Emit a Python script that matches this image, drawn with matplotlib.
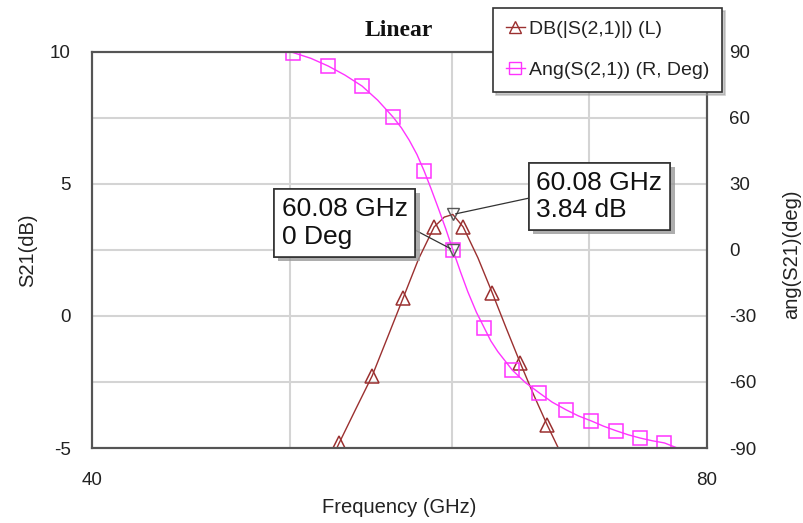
import matplotlib
matplotlib.use("Agg")
import matplotlib.pyplot as plt
import matplotlib.ticker as ticker
import matplotlib.patheffects as pe
from matplotlib.lines import Line2D

plt.rcParams.update({
    'font.family'       : 'sans-serif',
    'font.sans-serif'   : ['Liberation Sans', 'DejaVu Sans'],
    'axes.unicode_minus': False,
    'text.color'        : '#222222',
    'axes.labelcolor'   : '#222222',
    'xtick.color'       : '#222222',
    'ytick.color'       : '#222222',
})

# S21 magnitude (dB), left axis
FREQ_DB = [52.5, 52.86, 53.86, 54.86, 55.84, 56.81, 57.8, 58.83, 59.5, 60.08,
           60.78, 61.8, 62.81, 63.8, 64.82, 65.8, 66.82, 67.9]
S21_DB = [-5.3, -4.81, -3.52, -2.27, -0.78, 0.68, 2.15, 3.37, 3.74, 3.84,
          3.37, 2.2, 0.87, -0.46, -1.78, -2.98, -4.13, -5.25]
DB_MARKS = [1, 3, 5, 7, 10, 12, 14, 16]

# S21 phase (deg), right axis
FREQ_ANG = [50.19, 51.2, 52.21, 53.2, 54.24, 55.2, 56.17, 56.7, 57.2, 57.7,
            58.17, 58.6, 59.1, 59.6, 60.08, 60.6, 61.1, 61.7, 62.25, 62.7,
            63.2, 64.24, 65.2, 66.23, 67.2, 68.27, 69.2, 70.22, 71.2, 72.23,
            73.2, 74.21, 75.2, 76.25, 77.36]
S21_ANG = [89.6, 87.0, 83.5, 79.4, 74.4, 68.0, 60.3, 55.4, 49.8, 43.3,
           35.8, 28.2, 19.0, 9.6, 0.0, -10.0, -19.0, -28.4, -35.5, -41.3,
           -46.2, -54.6, -60.3, -65.0, -69.2, -72.7, -75.4, -77.7, -80.1, -82.2,
           -84.0, -85.5, -86.7, -87.7, -90.0]
ANG_MARKS = [0, 2, 4, 6, 10, 14, 18, 21, 23, 25, 27, 29, 31, 33]

# marker readouts
MARK_FREQ = 60.08
MARK_DB = 3.84
MARK_ANG = 0.0

DB_COLOR = '#9b3030'
ANG_COLOR = '#ff33ff'
GRID_COLOR = '#d4d4d4'
FRAME_COLOR = '#555555'

fig = plt.figure(figsize=(8.04, 5.23), dpi=100)
ax = fig.add_axes([0.1141, 0.1434, 0.7653, 0.7577])
ax2 = ax.twinx()

# x axis: log sweep 40-80 GHz, only ends labelled
ax.set_xscale('log')
ax.set_xlim(40, 80)
ax.xaxis.set_major_locator(ticker.FixedLocator([40, 80]))
ax.xaxis.set_major_formatter(ticker.FixedFormatter(['40', '80']))
ax.xaxis.set_minor_locator(ticker.FixedLocator([50, 60, 70]))
ax.xaxis.set_minor_formatter(ticker.NullFormatter())

ax.set_ylim(-5, 10)
ax.set_yticks([-5, 0, 5, 10])
ax.set_yticks([-2.5, 2.5, 7.5], minor=True)
ax2.set_ylim(-90, 90)
ax2.set_yticks([-90, -60, -30, 0, 30, 60, 90])

ax.grid(True, which='both', color=GRID_COLOR, linewidth=1.5)
ax.set_axisbelow(True)
ax.tick_params(axis='both', which='both', length=0, labelsize=13.5)
ax.tick_params(axis='y', pad=15)
ax.tick_params(axis='x', pad=17)
ax2.tick_params(axis='y', length=0, labelsize=13.5, pad=16)

for a in (ax, ax2):
    for sp in a.spines.values():
        sp.set_color(FRAME_COLOR)
        sp.set_linewidth(1.5)

# curves
ax.plot(FREQ_DB, S21_DB, color=DB_COLOR, linewidth=1.0, marker='^',
        markevery=DB_MARKS, markersize=10, markerfacecolor='none',
        markeredgecolor=DB_COLOR, markeredgewidth=1.1)
ax2.plot(FREQ_ANG, S21_ANG, color=ANG_COLOR, linewidth=1.0, marker='s',
         markevery=ANG_MARKS, markersize=10, markerfacecolor='none',
         markeredgecolor=ANG_COLOR, markeredgewidth=1.1)

# marker symbols
ax.plot([MARK_FREQ], [MARK_DB], marker='v', markersize=8, color='#555555',
        markerfacecolor='none', markeredgewidth=1.0, linestyle='none')
ax2.plot([MARK_FREQ], [MARK_ANG], marker='v', markersize=8, color='#555555',
         markerfacecolor='none', markeredgewidth=1.0, linestyle='none')

box_kw = dict(boxstyle='square,pad=0.3', facecolor='white',
              edgecolor='#333333', linewidth=1.2)
shadow = [pe.withSimplePatchShadow(offset=(3, -3), shadow_rgbFace='#999999',
                                   alpha=0.8), pe.Normal()]

t1 = ax2.annotate(f'{MARK_FREQ:.2f} GHz\n{MARK_ANG:.0f} Deg',
                  xy=(MARK_FREQ, MARK_ANG), xytext=(344.5, 300),
                  textcoords='figure pixels', ha='center', va='center',
                  multialignment='left', fontsize=19, color='#111111',
                  bbox=box_kw,
                  arrowprops=dict(arrowstyle='-', color='#333333', lw=0.9,
                                  relpos=(1.0, 0.44), shrinkA=0, shrinkB=2))
t2 = ax.annotate(f'{MARK_FREQ:.2f} GHz\n{MARK_DB:.2f} dB',
                 xy=(MARK_FREQ, MARK_DB), xytext=(599.5, 326.5),
                 textcoords='figure pixels', ha='center', va='center',
                 multialignment='left', fontsize=19, color='#111111',
                 bbox=box_kw,
                 arrowprops=dict(arrowstyle='-', color='#333333', lw=0.9,
                                 relpos=(0.0, 0.5), shrinkA=0, shrinkB=2))
for t in (t1, t2):
    t.get_bbox_patch().set_path_effects(shadow)

# axis labels
ax.set_xlabel('Frequency (GHz)', fontsize=14.5)
ax.xaxis.set_label_coords(0.5, -0.149)
ax.xaxis.label.set_va('center')
ax.set_ylabel('S21(dB)', fontsize=14.5)
ax.yaxis.set_label_coords(-0.104, 0.5)
ax.yaxis.label.set_va('center')
ax2.set_ylabel('ang(S21)(deg)', fontsize=14.5)
ax2.yaxis.set_label_coords(1.137, 0.49)
ax2.yaxis.label.set_va('center')

fig.text(0.4963, 1 - 31 / 523, 'Linear', ha='center', va='center',
         family='Liberation Serif', fontweight='bold', fontsize=17,
         color='#111111')

handles = [
    Line2D([0], [0], color=DB_COLOR, lw=1.0, marker='^', markersize=8,
           markerfacecolor='none', markeredgecolor=DB_COLOR),
    Line2D([0], [0], color=ANG_COLOR, lw=1.0, marker='s', markersize=9,
           markerfacecolor='none', markeredgecolor=ANG_COLOR),
]
leg = fig.legend(handles, ['DB(|S(2,1)|) (L)', 'Ang(S(2,1)) (R, Deg)'],
                 loc='upper left', bbox_to_anchor=(493 / 804, 1 - 8 / 523),
                 fontsize=14, fancybox=False, shadow={'color': '#999999'},
                 framealpha=1, edgecolor='#333333', borderaxespad=0,
                 borderpad=0.65, handlelength=1.0, handletextpad=0.2,
                 labelspacing=1.2)
leg.get_frame().set_linewidth(1.2)

fig.savefig('out.png', dpi=100)
